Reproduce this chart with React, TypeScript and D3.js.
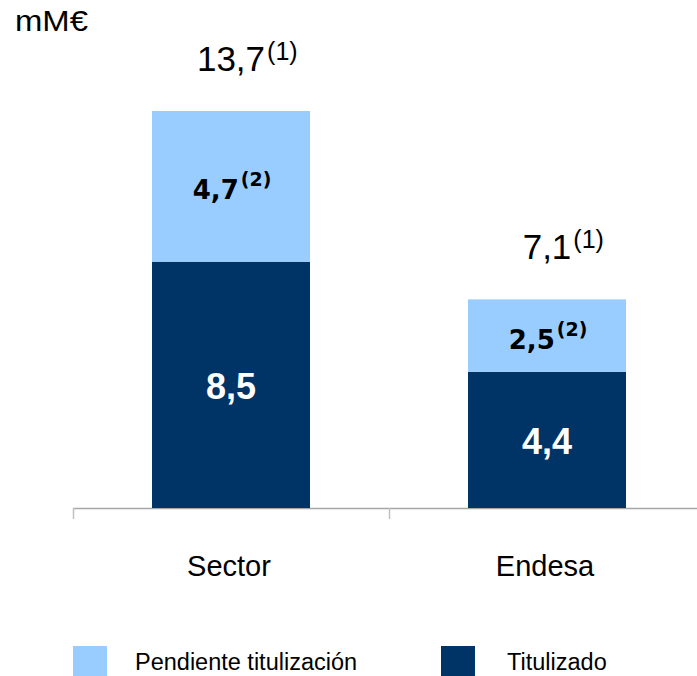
import React, { useEffect, useRef } from 'react';
import * as d3 from 'd3';

// bar heights as drawn, and the labels printed on them
const categories = ['Sector', 'Endesa'];
const titulizado = [8.5, 4.7];
const pendiente = [5.2, 2.5];
const titulizadoLabels = ['8,5', '4,4'];
const pendienteLabels = ['4,7', '2,5'];
const totalLabels = ['13,7', '7,1'];
const legendItems = ['Pendiente titulización', 'Titulizado'];

const LIGHT = '#99ccff';
const DARK = '#003366';
const FONT = '"Liberation Sans", Arial, sans-serif';

export default function App() {
    const ref = useRef<SVGSVGElement>(null);

    useEffect(() => {
        const svg = d3.select(ref.current);
        svg.selectAll('*').remove();

        const width = 697, height = 676;
        const baseY = 508;

        const x = d3.scaleBand().domain(categories).range([73, 705]).padding(0);
        const y = d3.scaleLinear().domain([0, 13.7]).range([baseY, 111]);
        const bw = x.bandwidth() * 0.5;
        const bx = (c: string) => (x(c) as number) + x.bandwidth() * 0.25;
        const cx = (c: string) => (x(c) as number) + x.bandwidth() / 2;

        svg.append('text')
            .attr('x', 15).attr('y', 31)
            .attr('font-family', FONT).attr('font-size', 30)
            .attr('textLength', 73).attr('lengthAdjust', 'spacingAndGlyphs')
            .text('mM€');

        // axis
        svg.append('line')
            .attr('x1', 73).attr('x2', width)
            .attr('y1', baseY + 0.5).attr('y2', baseY + 0.5)
            .attr('stroke', '#a6a6a6').attr('stroke-width', 1.5);
        const ticks = categories.map(c => x(c) as number).concat([x.range()[1]]);
        svg.selectAll('line.tick')
            .data(ticks)
            .enter()
            .append('line')
            .attr('class', 'tick')
            .attr('x1', d => d + 0.5).attr('x2', d => d + 0.5)
            .attr('y1', baseY).attr('y2', baseY + 11)
            .attr('stroke', '#c0c0c0').attr('stroke-width', 1.5);

        const g = svg.selectAll('g.bar')
            .data(categories)
            .enter()
            .append('g')
            .attr('class', 'bar');

        // titulizado (bottom)
        g.append('rect')
            .attr('x', d => bx(d))
            .attr('width', bw)
            .attr('y', (d, i) => y(titulizado[i]))
            .attr('height', (d, i) => baseY - y(titulizado[i]))
            .attr('fill', DARK);

        // pendiente (top)
        g.append('rect')
            .attr('x', d => bx(d))
            .attr('width', bw)
            .attr('y', (d, i) => y(titulizado[i] + pendiente[i]))
            .attr('height', (d, i) => y(titulizado[i]) - y(titulizado[i] + pendiente[i]))
            .attr('fill', LIGHT);

        g.append('text')
            .attr('x', d => cx(d))
            .attr('y', (d, i) => (baseY + y(titulizado[i])) / 2 + 14)
            .attr('text-anchor', 'middle')
            .attr('font-family', FONT).attr('font-size', 36).attr('font-weight', 'bold')
            .attr('fill', 'white')
            .text((d, i) => titulizadoLabels[i]);

        // inner labels of the light part, with superscript, centred as a whole
        g.each(function (d, i) {
            const grp = d3.select(this);
            const mid = (y(titulizado[i]) + y(titulizado[i] + pendiente[i])) / 2;
            const t = grp.append('text')
                .attr('y', mid + 13)
                .attr('font-family', '"DejaVu Sans", Verdana, sans-serif')
                .attr('font-weight', 'bold')
                .attr('font-size', 26);
            t.append('tspan').text(pendienteLabels[i]);
            t.append('tspan').attr('dy', -13).attr('dx', 2).attr('font-size', 19).text('(2)');
            const w = (t.node() as SVGTextElement).getComputedTextLength();
            t.attr('x', cx(d) - w / 2);

            // total label: number centred, superscript appended
            const top = y(titulizado[i] + pendiente[i]);
            const num = grp.append('text')
                .attr('x', cx(d)).attr('y', top - 40)
                .attr('text-anchor', 'middle')
                .attr('font-family', FONT).attr('font-size', 35)
                .text(totalLabels[i]);
            const nw = (num.node() as SVGTextElement).getComputedTextLength();
            grp.append('text')
                .attr('x', cx(d) + nw / 2 + 2).attr('y', top - 51)
                .attr('font-family', FONT).attr('font-size', 25)
                .text('(1)');
        });

        // category labels
        svg.selectAll('text.cat')
            .data(categories)
            .enter()
            .append('text')
            .attr('class', 'cat')
            .attr('x', d => cx(d) - 2)
            .attr('y', 576)
            .attr('text-anchor', 'middle')
            .attr('font-family', FONT).attr('font-size', 29)
            .text(d => d);

        // legend
        const legendX = [73, 441];
        const legendTextX = [135, 507];
        const lg = svg.selectAll('g.legend')
            .data(legendItems)
            .enter()
            .append('g')
            .attr('class', 'legend');
        lg.append('rect')
            .attr('x', (d, i) => legendX[i]).attr('y', 646)
            .attr('width', 34).attr('height', 34)
            .attr('fill', (d, i) => (i === 0 ? LIGHT : DARK));
        lg.append('text')
            .attr('x', (d, i) => legendTextX[i])
            .attr('y', 670)
            .attr('font-family', FONT).attr('font-size', 23.5)
            .text(d => d);

        svg.attr('width', width).attr('height', height);
    }, []);

    return (
        <svg ref={ref} style={{ position: 'absolute', left: 0, top: 0, background: 'white' }} />
    );
}
